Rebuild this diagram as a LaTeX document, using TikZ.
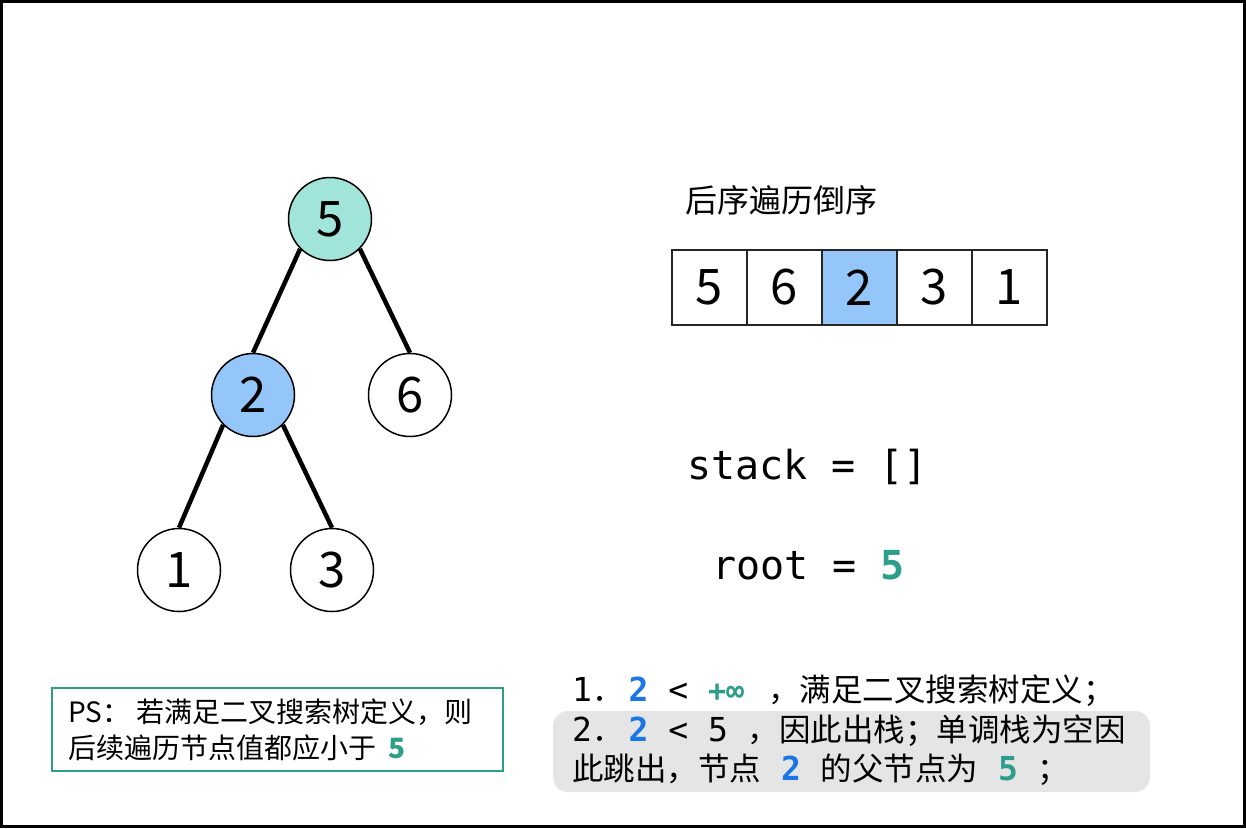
\documentclass[tikz,border=0pt]{standalone}
\usepackage{fontspec}
\setmainfont{Noto Sans CJK SC}
\newfontfamily\monof{DejaVu Sans Mono}
\definecolor{cteal}{HTML}{2E9E8C}
\definecolor{ctealfill}{HTML}{A1E5DA}
\definecolor{cbluefill}{HTML}{94C6FA}
\definecolor{cblue}{HTML}{1876E6}
\definecolor{cgray}{HTML}{E5E5E5}
\newcommand{\mtx}[1]{{\monof\fontsize{33}{33}\selectfont #1}}
\newcommand{\msp}{\mtx{\ }}
\begin{document}
\begin{tikzpicture}[x=1pt,y=-1pt,
  tnode/.style={circle,draw=black,line width=1.5pt,minimum size=83pt,inner sep=0pt,font=\fontsize{49}{49}\selectfont},
  tedge/.style={line width=4.5pt},
  cell/.style={draw=black!85,line width=2pt,minimum size=75pt,inner sep=0pt,font=\fontsize{49}{49}\selectfont},
  txt/.style={inner sep=0pt,anchor=west}
]
\useasboundingbox (0,0) rectangle (1246,828);
\draw[line width=3pt] (1.5,1.5) rectangle (1244.5,826.5);

% tree
\node[tnode,fill=ctealfill] (n5) at (330,219) {5};
\node[tnode,fill=cbluefill] (n2) at (253,395) {2};
\node[tnode,fill=white] (n6) at (410,395) {6};
\node[tnode,fill=white] (n1) at (179,570) {1};
\node[tnode,fill=white] (n3) at (332,570) {3};
\draw[tedge] (n5.south west) -- (n2.north);
\draw[tedge] (n5.south east) -- (n6.north);
\draw[tedge] (n2.south west) -- (n1.north);
\draw[tedge] (n2.south east) -- (n3.north);

% array
\node[txt,font=\fontsize{32}{32}\selectfont] (title) at (685,200) {后序遍历倒序};
\node[cell] (c1) at (709.5,287.5) {5};
\node[cell] (c2) at (784.5,287.5) {6};
\node[cell,fill=cbluefill] (c3) at (859.5,287.5) {2};
\node[cell] (c4) at (934.5,287.5) {3};
\node[cell] (c5) at (1009.5,287.5) {1};

% stack/root
\node[txt,font=\monof\fontsize{40}{40}\selectfont] (stack) at (687,467) {stack = []};
\node[txt,font=\monof\fontsize{40}{40}\selectfont] (root) at (712,565) {root = \textcolor{cteal}{\bfseries 5}};

% PS box
\node[draw=cteal,line width=2pt,minimum width=451pt,minimum height=83pt,inner sep=0pt] (psbox) at (277.5,729.5) {};
\node[txt,font=\fontsize{28}{28}\selectfont] (ps1) at (68,712) {PS：\ 若满足二叉搜索树定义，则};
\node[txt,font=\fontsize{28}{28}\selectfont] (ps2) at (68,748) {后续遍历节点值都应小于\ \ \textcolor{cteal}{\bfseries 5}};

% gray box
\node[fill=cgray,rounded corners=15pt,minimum width=597pt,minimum height=81pt,inner sep=0pt] (gbox) at (851.5,751.5) {};
\node[txt,font=\fontsize{31.5}{31.5}\selectfont] (l1) at (572,691) {\mtx{1}．\hspace{5pt}\mtx{\bfseries\color{cblue}2}\msp\mtx{<}\msp{\monof\fontsize{30}{30}\selectfont\bfseries\color{cteal}+∞}\hspace{24pt}，满足二叉搜索树定义；};
\node[txt,font=\fontsize{31.5}{31.5}\selectfont] (l2) at (572,731) {\mtx{2}．\hspace{5pt}\mtx{\bfseries\color{cblue}2}\msp\mtx{<}\msp\mtx{5}\msp，因此出栈；单调栈为空因};
\node[txt,font=\fontsize{31.5}{31.5}\selectfont] (l3) at (572,770) {此跳出，节点\msp\mtx{\bfseries\color{cblue}2}\msp 的父节点为\msp\mtx{\bfseries\color{cteal}5}\msp；};
\end{tikzpicture}
\end{document}
